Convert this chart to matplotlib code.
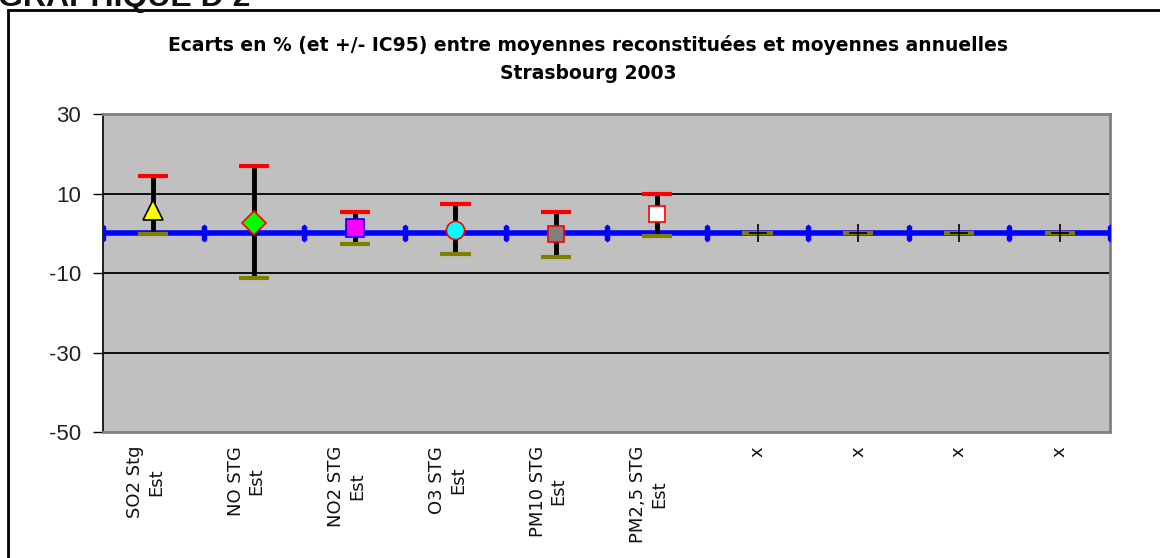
import matplotlib.pyplot as plt
import matplotlib.transforms as mtransforms
import numpy as np

plt.rcParams['font.family'] = ['Liberation Sans', 'DejaVu Sans']

# Ecarts (%) et bornes de l'IC95 par polluant
labels = ['SO2 Stg\nEst', 'NO STG\nEst', 'NO2 STG\nEst', 'O3 STG\nEst', 'PM10 STG\nEst',
          'PM2,5 STG\nEst', 'x', 'x', 'x', 'x']
ecarts = [5.8, 2.6, 1.2, 0.7, -0.3, 4.8, 0, 0, 0, 0]
ic_haut = [14.3, 16.9, 5.3, 7.3, 5.3, 9.8, 0, 0, 0, 0]
ic_bas = [-0.3, -11.3, -2.8, -5.3, -5.9, -0.7, 0, 0, 0, 0]

# style des marqueurs: (forme, remplissage, bord, taille)
styles = [('^', 'yellow', 'black', 14),
          ('D', '#00ff00', 'red', 12),
          ('s', 'magenta', 'blue', 13),
          ('o', 'cyan', 'red', 13),
          ('s', 'gray', 'red', 11),
          ('s', 'white', 'red', 11),
          ('+', 'black', 'black', 13),
          ('+', 'black', 'black', 13),
          ('+', 'black', 'black', 13),
          ('+', 'black', 'black', 13)]

fig = plt.figure(figsize=(11.6, 5.58), dpi=100)
ax = fig.add_axes([0.0888, 0.2258, 0.8681, 0.5699])
ax.set_facecolor('#c0c0c0')

x = np.arange(len(labels)) + 0.5

# ligne du zéro avec repères aux limites des catégories
bornes = np.arange(len(labels) + 1)
repere = [(-0.3, -0.75), (0, -1), (0.3, -0.75), (0.3, 0.75), (0, 1), (-0.3, 0.75)]
ax.plot(bornes, np.zeros(len(bornes)), color='blue', lw=4, marker=repere,
        markersize=13, markeredgewidth=0, zorder=3)

for i in range(len(labels)):
    ax.vlines(x[i], ic_bas[i], ic_haut[i], color='black', lw=3.5, zorder=4)
    ax.hlines(ic_haut[i], x[i] - 0.15, x[i] + 0.15, color='red', lw=3, zorder=4)
    ax.hlines(ic_bas[i], x[i] - 0.15, x[i] + 0.15, color='#808000', lw=3, zorder=4)
    m, fc, ec, ms = styles[i]
    if m == '+':
        ax.plot(x[i], ecarts[i], marker='+', color='black', markersize=ms,
                markeredgewidth=1.2, zorder=5)
    else:
        ax.plot(x[i], ecarts[i], marker=m, markerfacecolor=fc, markeredgecolor=ec,
                markersize=ms, markeredgewidth=1.2, linestyle='none', zorder=5)

ax.set_xlim(0, len(labels))
ax.set_ylim(-50, 30)
ax.set_yticks([30, 10, -10, -30, -50])
ax.set_yticklabels(['30', '10', '-10', '-30', '-50'], fontsize=16, color='#222222')
ax.tick_params(axis='y', direction='out', length=7, width=1, pad=9)
for g in [10, -10, -30]:
    ax.axhline(g, color='black', lw=1.3, zorder=1)

ax.set_xticks(x)
ax.set_xticklabels(labels, rotation=90, fontsize=13, ha='center', va='top',
                   multialignment='center', family=['DejaVu Sans'], color='#111111')
ax.tick_params(axis='x', length=0, pad=10)
decalage = mtransforms.ScaledTranslation(-8 / 100, 0, fig.dpi_scale_trans)
for t in ax.get_xticklabels()[:6]:
    t.set_transform(t.get_transform() + decalage)

for side in ['top', 'right', 'bottom']:
    ax.spines[side].set_color('#808080')
    ax.spines[side].set_linewidth(2)
ax.spines['left'].set_color('black')
ax.spines['left'].set_linewidth(1.2)

fig.text(0.507, 0.919, 'Ecarts en % (et +/- IC95) entre moyennes reconstituées et moyennes annuelles',
         ha='center', va='center', fontsize=13.5, fontweight='bold', family=['DejaVu Sans'])
fig.text(0.507, 0.869, 'Strasbourg 2003', ha='center', va='center', fontsize=13.5,
         fontweight='bold', family=['DejaVu Sans'])

# cadre du graphique et titre de la page
fig.add_artist(plt.Rectangle((8 / 1160, -0.1), 1.2, 1.1 - 10 / 558, transform=fig.transFigure,
                             fill=False, edgecolor='black', lw=2))
fig.text(-2 / 1160, 1 - 6 / 558, 'GRAPHIQUE D 2', ha='left', va='baseline', fontsize=23,
         fontweight='bold', color='#111111')

fig.savefig('out.png', dpi=100)
